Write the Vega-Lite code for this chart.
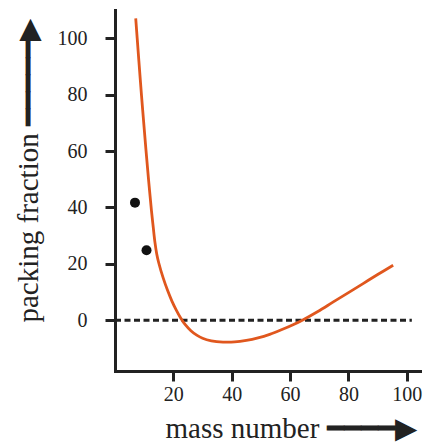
{
  "$schema": "https://vega.github.io/schema/vega-lite/v6.json",
  "width": 305,
  "height": 361,
  "autosize": {"type": "none"},
  "padding": {"left": 115, "top": 10, "right": 3, "bottom": 72},
  "background": "white",
  "config": {
    "view": {"stroke": null},
    "font": "Liberation Serif, Times New Roman, serif",
    "axis": {
      "grid": false,
      "domainColor": "#222222",
      "domainWidth": 3,
      "domainCap": "square",
      "tickColor": "#222222",
      "tickWidth": 3,
      "tickSize": 10,
      "labelFont": "Liberation Serif, Times New Roman, serif",
      "labelFontSize": 20,
      "labelColor": "#222222",
      "titleFont": "Liberation Serif, Times New Roman, serif",
      "titleFontSize": 29,
      "titleFontWeight": "normal",
      "titleColor": "#222222"
    }
  },
  "datasets": {
    "curve": [
      {"x": 7.1, "y": 107}, {"x": 7.6, "y": 100}, {"x": 8.3, "y": 90.3}, {"x": 9.1, "y": 79.5},
      {"x": 9.8, "y": 70.5}, {"x": 10.6, "y": 60.5}, {"x": 11.5, "y": 49.8}, {"x": 12.5, "y": 38.8},
      {"x": 13.1, "y": 33}, {"x": 13.7, "y": 27.5}, {"x": 14.3, "y": 23.5}, {"x": 15, "y": 20.3},
      {"x": 16.5, "y": 15}, {"x": 18, "y": 10.6}, {"x": 19.5, "y": 6.8}, {"x": 21, "y": 3.6},
      {"x": 22.5, "y": 0.8}, {"x": 24, "y": -1.5}, {"x": 26, "y": -3.7}, {"x": 28, "y": -5.3},
      {"x": 30, "y": -6.4}, {"x": 33, "y": -7.3}, {"x": 37, "y": -7.75}, {"x": 41, "y": -7.7},
      {"x": 45, "y": -7.15}, {"x": 49, "y": -6.25}, {"x": 53, "y": -5.0}, {"x": 57, "y": -3.4},
      {"x": 61, "y": -1.6}, {"x": 64.5, "y": 0.2}, {"x": 69.5, "y": 3.1}, {"x": 74.8, "y": 6.5},
      {"x": 80, "y": 9.8}, {"x": 85, "y": 13}, {"x": 90, "y": 16.2}, {"x": 95.3, "y": 19.5}
    ],
    "dots": [{"x": 6.85, "y": 41.7}, {"x": 10.8, "y": 24.8}],
    "zero": [{"x": 0, "x2": 101.7, "y": 0}]
  },
  "encoding": {
    "x": {
      "field": "x", "type": "quantitative",
      "scale": {"domain": [0, 104.5], "nice": false, "zero": false},
      "axis": {
        "values": [20, 40, 60, 80, 100],
        "labelPadding": 3,
        "title": "mass number   ━━━━▶",
        "titleAlign": "left",
        "titleBaseline": "alphabetic",
        "titleX": 50,
        "titleY": 66
      }
    },
    "y": {
      "field": "y", "type": "quantitative",
      "scale": {"domain": [-18, 110], "nice": false, "zero": false},
      "axis": {
        "values": [0, 20, 40, 60, 80, 100],
        "labelPadding": 18,
        "title": "packing fraction  ━━━━━▶",
        "titleAngle": -90,
        "titleAlign": "left",
        "titleBaseline": "alphabetic",
        "titleX": -78,
        "titleY": 312
      }
    }
  },
  "layer": [
    {
      "data": {"name": "zero"},
      "mark": {"type": "rule", "color": "#222222", "strokeWidth": 3, "strokeDash": [6, 3.5]},
      "encoding": {"x2": {"field": "x2"}}
    },
    {
      "data": {"name": "curve"},
      "mark": {"type": "line", "color": "#E0571E", "strokeWidth": 2.8, "interpolate": "catmull-rom"}
    },
    {
      "data": {"name": "dots"},
      "mark": {"type": "circle", "color": "#111111", "opacity": 1, "size": 100}
    }
  ]
}
